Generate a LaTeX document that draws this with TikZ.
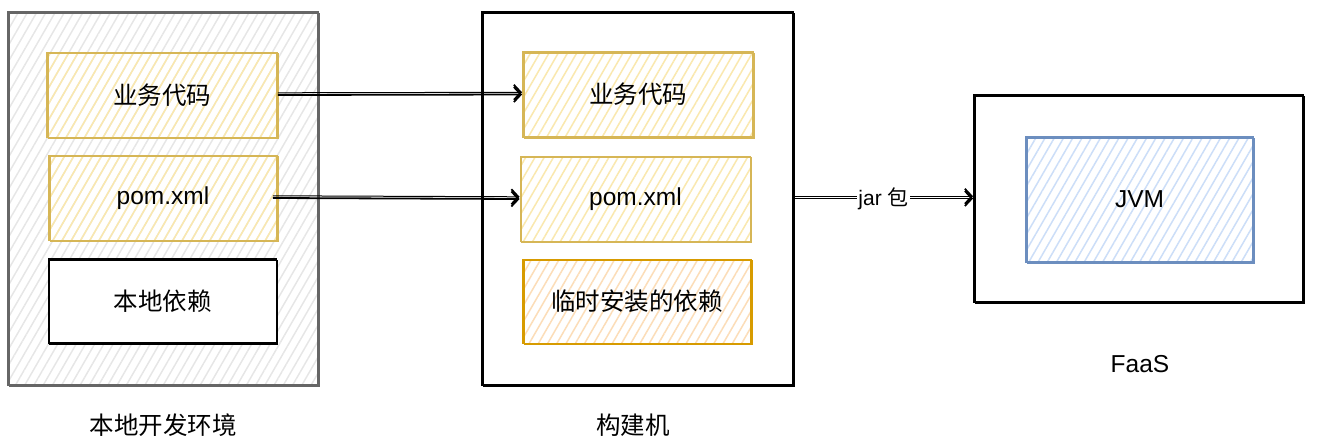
\documentclass[tikz,border=0pt]{standalone}
\usepackage{fontspec}
\setmainfont{Liberation Sans}
\newfontfamily\cjk{Noto Sans CJK SC}
\usetikzlibrary{patterns.meta,arrows.meta}
\definecolor{ybd}{HTML}{D6B656}
\definecolor{yfl}{HTML}{FAE8AE}
\definecolor{obd}{HTML}{D79B00}
\definecolor{ofl}{HTML}{FCDDB8}
\definecolor{bbd}{HTML}{6C8EBF}
\definecolor{bfl}{HTML}{CCDEF8}
\definecolor{gbd}{HTML}{666666}
\definecolor{gfl}{HTML}{E6E6E6}
\tikzset{
  sketch/.style={postaction={draw, line width=0.9pt, transform canvas={shift={(1pt,-1.2pt)}}}},
  box/.style={draw, line width=1.8pt, inner sep=0pt, font=\fontsize{24.5}{28}\selectfont, sketch},
  hatch/.style={pattern={Lines[angle=60,distance=8pt,line width=1.5pt]}, pattern color=#1},
  yel/.style={box, draw=ybd, hatch=yfl, minimum width=230pt, minimum height=85pt},
  org/.style={box, draw=obd, hatch=ofl, minimum width=230pt, minimum height=84pt},
  plain/.style={box, draw=black, fill=white, minimum width=228pt, minimum height=84pt},
  lab/.style={font=\fontsize{24.5}{28}\selectfont, inner sep=1pt},
  arr/.style={draw=black, line width=1.8pt, -{Straight Barb[length=7pt,width=15pt,line width=1.8pt]},
    postaction={draw, line width=1pt, transform canvas={yshift=2.2pt}}}
}
\begin{document}
\begin{tikzpicture}[x=1pt,y=-1pt]
\useasboundingbox (0,0) rectangle (1319,444);
% containers
\node[box, draw=gbd, hatch=gfl, minimum width=310pt, minimum height=373pt] (local) at (163,198.5) {};
\node[box, draw=black, fill=white, minimum width=311pt, minimum height=373pt] (build) at (637.5,198.5) {};
\node[box, draw=black, fill=white, minimum width=329pt, minimum height=207pt] (faas) at (1138.5,198.5) {};
% left
\node[yel] (lcode) at (162,95) {\cjk 业务代码};
\node[yel, minimum width=228pt] (lpom) at (163,198) {pom.xml};
\node[plain] (ldep) at (162.5,301) {\cjk 本地依赖};
% middle
\node[yel] (bcode) at (638,94.5) {\cjk 业务代码};
\node[yel] (bpom) at (635.5,199) {pom.xml};
\node[org, minimum width=228pt] (bdep) at (637,301.5) {\cjk 临时安装的依赖};
% right
\node[box, draw=bbd, hatch=bfl, minimum width=227pt, minimum height=125pt] (jvm) at (1139.5,199.5) {JVM};
% labels
\node[lab] (llab) at (163,425) {\cjk 本地开发环境};
\node[lab] (blab) at (633,425) {\cjk 构建机};
\node[lab] (flab) at (1140,364) {FaaS};
% arrows
\draw[arr] (lcode.east) -- (bcode.west);
\draw[arr] ([xshift=-5pt]lpom.east) -- (bpom.west);
\draw[arr] (build.east) -- node[fill=white, inner sep=1pt, font=\fontsize{21}{25}\selectfont] (jar) {jar {\cjk 包}} (faas.west);
\end{tikzpicture}
\end{document}
